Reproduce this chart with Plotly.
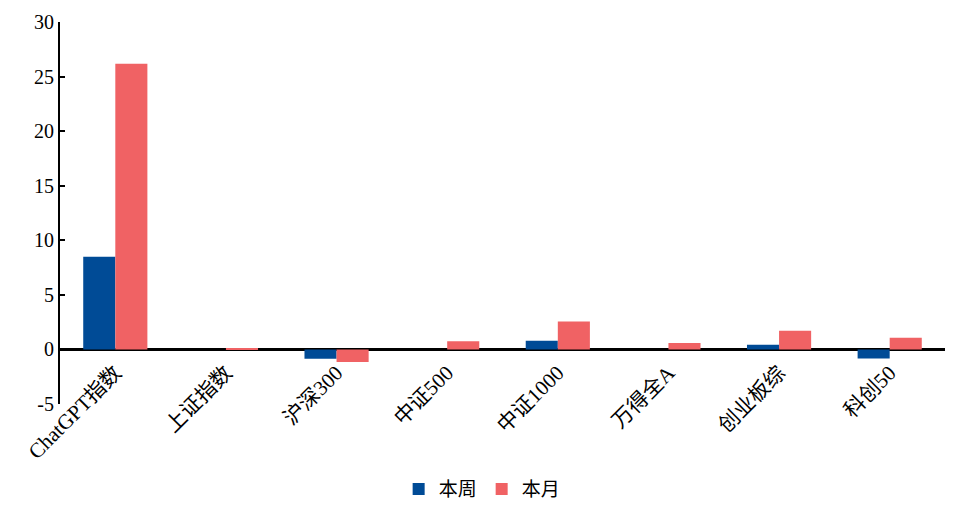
import plotly.graph_objects as go

categories = ["ChatGPT指数", "上证指数", "沪深300", "中证500", "中证1000", "万得全A", "创业板综", "科创50"]
week = [8.5, 0.0, -0.85, 0.0, 0.8, 0.0, 0.43, -0.82]
month = [26.17, 0.1, -1.15, 0.75, 2.55, 0.6, 1.72, 1.07]
y_ticks = [-5, 0, 5, 10, 15, 20, 25, 30]
y_tick_text = ["-5", "0", "5", "10", "15", "20", "25", "30"]
y_range = [-5, 30]

COLORS = {"week": "#004B96", "month": "#F06264"}
FONT = "Liberation Serif, Noto Sans CJK SC, serif"

fig = go.Figure()
fig.add_trace(go.Bar(x=categories, y=week, name="本周",
                     marker=dict(color=COLORS["week"], line=dict(width=0))))
fig.add_trace(go.Bar(x=categories, y=month, name="本月",
                     marker=dict(color=COLORS["month"], line=dict(width=0))))

# page body has an 8px margin, so the figure is drawn 16px smaller
fig.update_layout(
    barmode="group",
    bargap=0.42,
    bargroupgap=0,
    width=938,
    height=491,
    plot_bgcolor="white",
    paper_bgcolor="white",
    font=dict(family=FONT, size=20, color="black"),
    margin=dict(l=52, r=1, t=14, b=95),
    legend=dict(
        orientation="h",
        x=0.477, xanchor="center",
        yref="container",
        y=0.02, yanchor="middle",
        font=dict(size=19),
        itemwidth=30,
    ),
)
# category labels hang from the zero line, as in the original
fig.update_xaxes(
    anchor="free",
    position=(0 - y_range[0]) / (y_range[1] - y_range[0]),
    tickangle=-45,
    ticklabelstandoff=6,
    showline=False,
    showgrid=False,
    ticks="",
    automargin=False,
    tickfont=dict(size=21),
)
fig.update_yaxes(
    range=y_range,
    tickvals=y_ticks,
    ticktext=y_tick_text,
    showgrid=False,
    showline=True,
    linecolor="black",
    linewidth=2,
    ticks="inside",
    ticklen=5,
    tickwidth=2,
    tickcolor="black",
    zeroline=True,
    zerolinecolor="black",
    zerolinewidth=2.5,
    automargin=False,
    tickfont=dict(size=20),
)

fig.write_html("out.html")
